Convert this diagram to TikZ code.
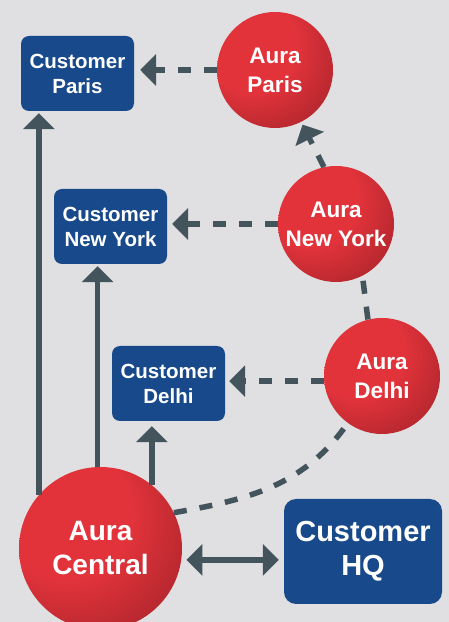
\documentclass[tikz,border=0pt]{standalone}
\usepackage{fontspec}
\setmainfont{Liberation Sans}
\usetikzlibrary{arrows.meta}
\definecolor{bggray}{HTML}{E0DFE1}
\definecolor{custblue}{HTML}{18498A}
\definecolor{auralight}{HTML}{E2333B}
\definecolor{auradark}{HTML}{981F26}
\definecolor{linkgray}{HTML}{43545C}
\pgfdeclareradialshading{auraball}{\pgfpoint{-14bp}{14bp}}{color(0bp)=(auralight); color(20bp)=(auralight); color(48bp)=(auradark); color(80bp)=(auradark)}
\tikzstyle{aura}=[shape=circle,shade,shading=auraball,text=white,font=\bfseries\fontsize{22.5}{29}\selectfont,align=center,minimum size=116pt,inner sep=0pt]
\tikzstyle{customer}=[shape=rectangle,rounded corners=8pt,fill=custblue,text=white,font=\bfseries\fontsize{20.5}{25}\selectfont,align=center,minimum width=113pt,minimum height=75pt,inner sep=0pt]
\tikzstyle{link}=[-{Triangle[length=16pt,width=31pt]},draw=linkgray,line width=5.5pt,shorten >=4pt]
\tikzstyle{lightline}=[draw=linkgray,line width=5.5pt,dash pattern=on 13pt off 13pt]
\tikzstyle{lightlink}=[link,dash pattern=on 13pt off 13pt]

\begin{document}
\begin{tikzpicture}[x=1pt,y=1pt]

		\useasboundingbox (0,0) rectangle (449,622);
		\clip (0,0) rectangle (449,622);
		\fill[bggray] (0,0) rectangle (449,622);

		% aura sites
		\node[aura] (aparis) at (275,552) {Aura\\Paris};
		\node[aura] (anewyork) at (336,398) {Aura\\New York};
		\node[aura] (adelhi) at (382,246) {Aura\\Delhi};
		\node[aura,minimum size=163pt,font=\bfseries\fontsize{28}{34}\selectfont] (acentral) at (100.5,73.5) {Aura\\Central};

		% customer sites
		\node[customer] (cparis) at (77.5,548.5) {Customer\\Paris};
		\node[customer] (cnewyork) at (110.5,395.5) {Customer\\New York};
		\node[customer] (cdelhi) at (168.5,238.5) {Customer\\Delhi};
		\node[customer,minimum width=158pt,minimum height=105pt,rounded corners=12pt,font=\bfseries\fontsize{29}{34}\selectfont] (chq) at (363,70.5) {Customer\\HQ};

		% replication chain
		\draw[lightline] (acentral.26) to[out=10,in=235] (adelhi.234);
		\draw[lightline] (adelhi.104) -- (anewyork.297);
		\draw[lightlink,shorten >=3pt] (anewyork.102) -- (aparis);

		% aura to customer
		\draw[lightlink,shorten >=6pt] (aparis.west) -- (aparis.west -| cparis.east);
		\draw[lightlink,shorten >=5pt] (anewyork.west) -- (anewyork.west -| cnewyork.east);
		\draw[lightlink] (adelhi.185) -- (adelhi.185 -| cdelhi.east);

		% central feeds
		\draw[link,shorten >=2pt] (acentral.139) -- (acentral.139 |- cparis.south);
		\draw[link,shorten >=2pt] (acentral.92) -- (acentral.92 |- cnewyork.south);
		\draw[link,shorten >=5pt] (acentral.51) -- (acentral.51 |- cdelhi.south);
		\draw[link,{Triangle[length=16pt,width=31pt]}-{Triangle[length=16pt,width=31pt]},shorten <=5pt,shorten >=5pt] (acentral.352) -- (acentral.352 -| chq.west);

\end{tikzpicture}
\end{document}
